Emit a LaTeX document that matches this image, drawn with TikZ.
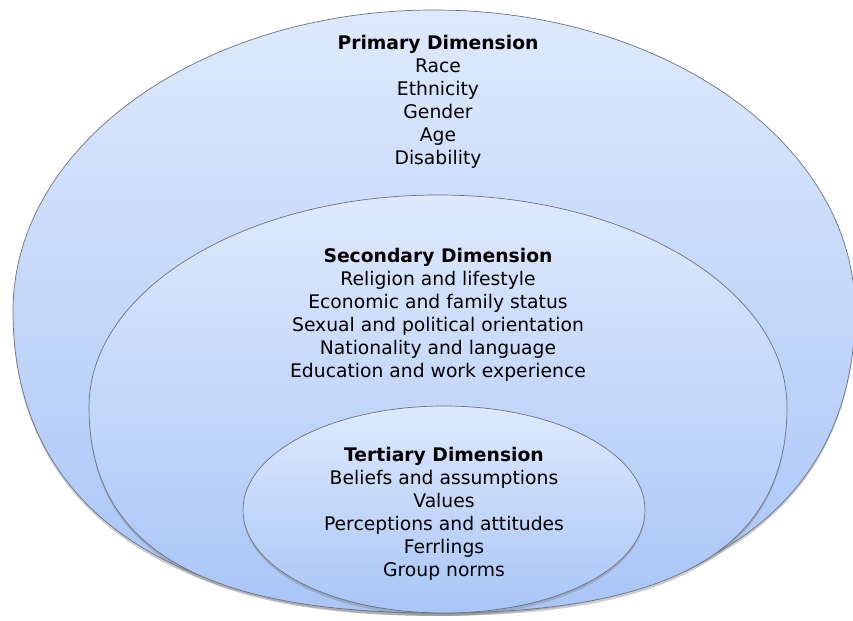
\documentclass[tikz,border=0pt]{standalone}
\usepackage{fontspec}
\setmainfont{DejaVu Sans}
\usepackage{tikz}
\usetikzlibrary{shadows}

\definecolor{ringtop}{HTML}{DEE9FC}
\definecolor{ringbottom}{HTML}{A8C5F7}
\definecolor{ringline}{HTML}{6B7283}

\begin{document}
\begin{tikzpicture}[
    ring/.style={draw=ringline, line width=0.6pt, top color=ringtop, bottom color=ringbottom,
        drop shadow={shadow xshift=0pt, shadow yshift=-2.5pt, opacity=0.4}},
    label/.style={align=center, font=\fontsize{16}{19.6}\selectfont, text=black}
]
\useasboundingbox (0,0) rectangle (25.59,-18.63);
\clip (0,0) rectangle (25.59,-18.63);

% nested dimensions, outside in (upper half elliptic, lower half a bit fuller)
\path[ring] (0.39,-9.33) arc[start angle=180, end angle=0, x radius=12.63, y radius=9.03]
    .. controls +(0,-5.80) and +(8.08,0) .. (13.02,-18.39)
    .. controls +(-8.08,0) and +(0,-5.80) .. (0.39,-9.33) -- cycle;
\path[ring] (2.67,-12.21) arc[start angle=180, end angle=0, x radius=10.47, y radius=6.36]
    .. controls +(0,-4.20) and +(7.12,0) .. (13.14,-18.39)
    .. controls +(-7.12,0) and +(0,-4.20) .. (2.67,-12.21) -- cycle;
\path[ring] (7.29,-15.30) arc[start angle=180, end angle=0, x radius=6.03, y radius=3.12]
    .. controls +(0,-1.73) and +(3.38,0) .. (13.32,-18.39)
    .. controls +(-3.38,0) and +(0,-1.73) .. (7.29,-15.30) -- cycle;

\node[label] (primary) at (13.14,-3.06) {\textbf{Primary Dimension}\\Race\\Ethnicity\\Gender\\Age\\Disability};
\node[label] (secondary) at (13.14,-9.44) {\textbf{Secondary Dimension}\\Religion and lifestyle\\Economic and family status\\Sexual and political orientation\\Nationality and language\\Education and work experience};
\node[label] (tertiary) at (13.32,-15.42) {\textbf{Tertiary Dimension}\\Beliefs and assumptions\\Values\\Perceptions and attitudes\\Ferrlings\\Group norms};

\end{tikzpicture}
\end{document}
